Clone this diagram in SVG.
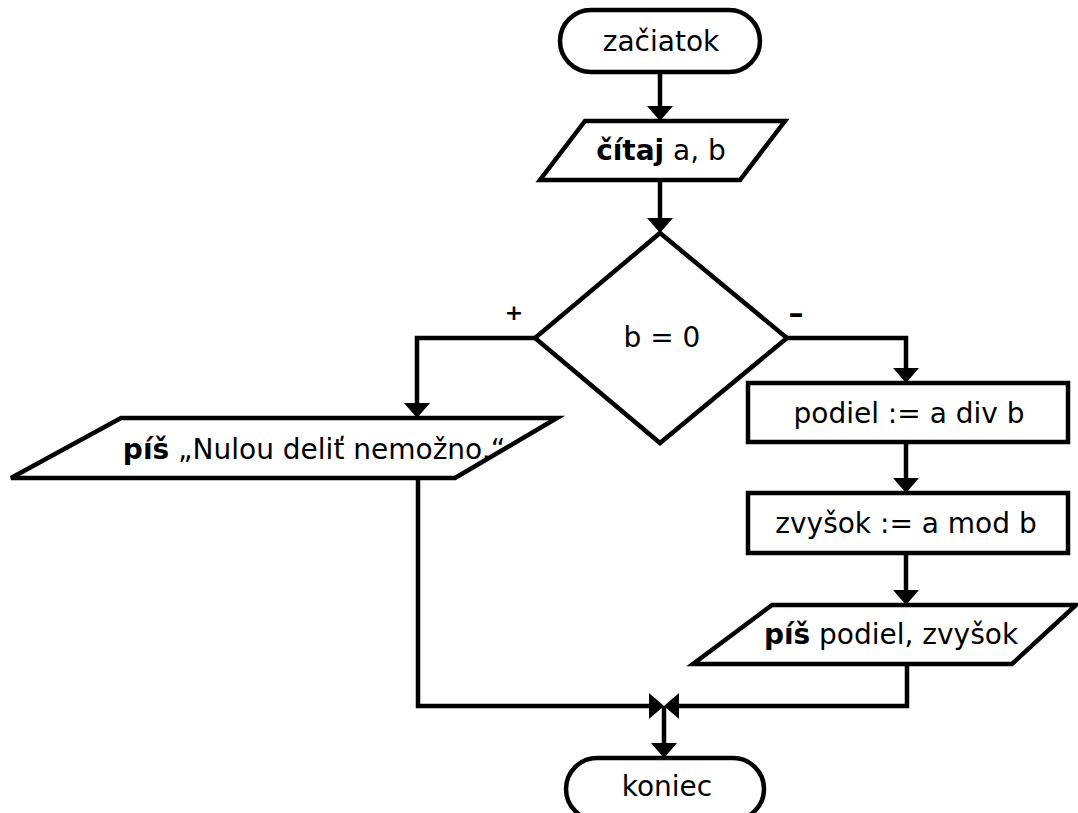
<svg xmlns="http://www.w3.org/2000/svg" width="1078" height="813" viewBox="0 0 1078 813">
<style>
.shape{fill:#fff;stroke:#000;stroke-width:4.5;stroke-linejoin:miter}
.conn{fill:none;stroke:#000;stroke-width:4.5}
text{font-family:"DejaVu Sans","Liberation Sans",sans-serif;font-size:28px;fill:#000;text-anchor:middle}
.b{font-weight:bold}
</style>
<defs>
<marker id="arr" viewBox="0 0 15 26" refX="9" refY="13" markerWidth="15" markerHeight="26" markerUnits="userSpaceOnUse" orient="auto">
<path d="M0,0 L15,13 L0,26 z" fill="#000"/>
</marker>
</defs>
<g id="connectors">
<path class="conn" d="M660,72 V115" marker-end="url(#arr)"/>
<path class="conn" d="M660,180 V227" marker-end="url(#arr)"/>
<path class="conn" d="M535,338 H417 V412" marker-end="url(#arr)"/>
<path class="conn" d="M787,338 H906 V377" marker-end="url(#arr)"/>
<path class="conn" d="M906,442 V487" marker-end="url(#arr)"/>
<path class="conn" d="M906,553 V599" marker-end="url(#arr)"/>
<path class="conn" d="M418,478 V706 H658" marker-end="url(#arr)"/>
<path class="conn" d="M907,664 V706 H670" marker-end="url(#arr)"/>
<path class="conn" d="M664,706 V752" marker-end="url(#arr)"/>
<text x="514" y="320" class="b" style="font-size:22px">+</text>
<text x="796" y="323" class="b" style="font-size:30px">–</text>
</g>
<g id="start">
<rect class="shape" x="560" y="10" width="200" height="62" rx="31" ry="31"/>
<text x="661" y="51">začiatok</text>
</g>
<g id="read">
<polygon class="shape" points="585,121 785,121 740,180 540,180"/>
<text x="661" y="160"><tspan class="b">čítaj</tspan> a, b</text>
</g>
<g id="decision">
<polygon class="shape" points="660,233 787,338 660,443 535,338"/>
<text x="662" y="347">b = 0</text>
</g>
<g id="write-error">
<polygon class="shape" points="121,418 557,418 455,478 11,478"/>
<text x="314" y="459"><tspan class="b">píš</tspan> „Nulou deliť nemožno.“</text>
</g>
<g id="div">
<rect class="shape" x="748" y="383" width="320" height="59"/>
<text x="909" y="423">podiel := a div b</text>
</g>
<g id="mod">
<rect class="shape" x="748" y="493" width="320" height="60"/>
<text x="906" y="533">zvyšok := a mod b</text>
</g>
<g id="write-result">
<polygon class="shape" points="772,605 1076,605 1012,664 693,664"/>
<text x="891" y="644"><tspan class="b">píš</tspan> podiel, zvyšok</text>
</g>
<g id="end">
<rect class="shape" x="566" y="758" width="198" height="62" rx="31" ry="31"/>
<text x="667" y="796">koniec</text>
</g>
</svg>
